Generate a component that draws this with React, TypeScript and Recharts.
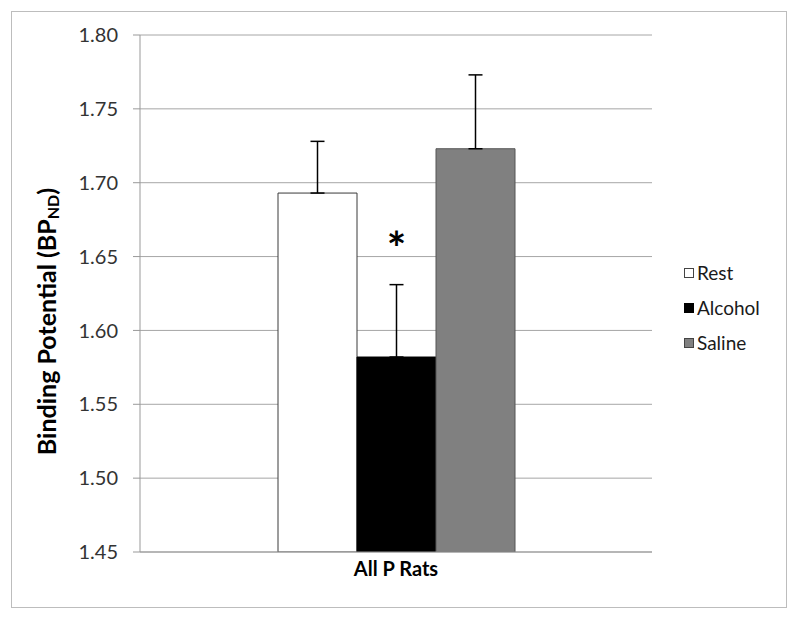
import React from 'react';
import { BarChart, Bar, XAxis, YAxis, CartesianGrid, ErrorBar, Legend, LabelList } from 'recharts';

const categories = ['All P Rats'];
const restValues = [1.693];
const restErrors = [0.035];
const alcoholValues = [1.582];
const alcoholErrors = [0.049];
const salineValues = [1.723];
const salineErrors = [0.05];
const yTicks = [1.45, 1.5, 1.55, 1.6, 1.65, 1.7, 1.75, 1.8];

const seriesInfo = [
  { key: 'rest', name: 'Rest', fill: '#ffffff', stroke: '#3a3a3a' },
  { key: 'alcohol', name: 'Alcohol', fill: '#000000', stroke: '#000000' },
  { key: 'saline', name: 'Saline', fill: '#808080', stroke: '#555555' },
];

const data = categories.map((name, i) => ({
  name,
  rest: restValues[i],
  restErr: [0, restErrors[i]],
  alcohol: alcoholValues[i],
  alcoholErr: [0, alcoholErrors[i]],
  saline: salineValues[i],
  salineErr: [0, salineErrors[i]],
}));

const FONT = 'Lato, "Open Sans", sans-serif';

const LegendBox = () => (
  <div style={{ fontFamily: FONT, fontSize: 19, color: '#1a1a1a' }}>
    {seriesInfo.map(s => (
      <div key={s.key} style={{ display: 'flex', alignItems: 'center', height: 35 }}>
        <span style={{ display: 'inline-block', width: 8, height: 8, background: s.fill, border: `1px solid ${s.stroke === '#000000' ? '#000' : '#444'}`, marginRight: 3 }} />
        <span>{s.name}</span>
      </div>
    ))}
  </div>
);

const YLabel = (props: any) => {
  const { viewBox } = props;
  const cx = viewBox.x + 6;
  const cy = viewBox.y + viewBox.height / 2 + 28;
  return (
    <text x={cx} y={cy} transform={`rotate(-90, ${cx}, ${cy})`} textAnchor="middle" dominantBaseline="central"
      fontFamily={FONT} fontWeight="bold" fontSize={25} fill="#000">
      <tspan>Binding Potential (BP</tspan>
      <tspan fontSize={16} dy={6}>ND</tspan>
      <tspan dy={-6}>)</tspan>
    </text>
  );
};

const Star = (props: any) => {
  const { x, y, width } = props;
  return (
    <text x={x + width / 2} y={y - 92} textAnchor="middle" fontFamily={FONT} fontWeight="bold" fontSize={46} fill="#000">*</text>
  );
};

export default function App() {
  return (
    <div style={{ paddingTop: 3, paddingLeft: 3 }}>
      <div style={{ width: 774, height: 595, border: '1px solid #bdbdbd', background: '#fff' }}>
        <BarChart width={774} height={595} data={data} barSize={79} barGap={0}
          margin={{ top: 23, right: 34, left: 28, bottom: 25 }}>
          <CartesianGrid vertical={false} stroke="#a6a6a6" />
          <XAxis dataKey="name" height={30} axisLine={{ stroke: '#999' }} tickLine={false} tickMargin={4}
            tick={{ fontFamily: FONT, fontWeight: 'bold', fontSize: 20, fill: '#000' }} />
          <YAxis width={100} domain={[1.45, 1.8]} ticks={yTicks} interval={0} allowDataOverflow
            tickFormatter={(v: number) => v.toFixed(2)}
            axisLine={{ stroke: '#999' }} tickLine={{ stroke: '#999' }} tickSize={7} tickMargin={15}
            tick={{ fontFamily: FONT, fontSize: 20, fill: '#333' }}
            label={<YLabel />} />
          <Legend layout="vertical" align="right" verticalAlign="middle" content={<LegendBox />}
            wrapperStyle={{ left: 672, top: 243, width: 100 }} />
          {seriesInfo.map(s => (
            <Bar key={s.key} dataKey={s.key} name={s.name} fill={s.fill} stroke={s.stroke} strokeWidth={1}
              isAnimationActive={false}>
              <ErrorBar dataKey={`${s.key}Err`} width={7} stroke="#000" strokeWidth={1.5} direction="y" />
              {s.key === 'alcohol' && <LabelList dataKey="alcohol" content={<Star />} />}
            </Bar>
          ))}
        </BarChart>
      </div>
    </div>
  );
}
